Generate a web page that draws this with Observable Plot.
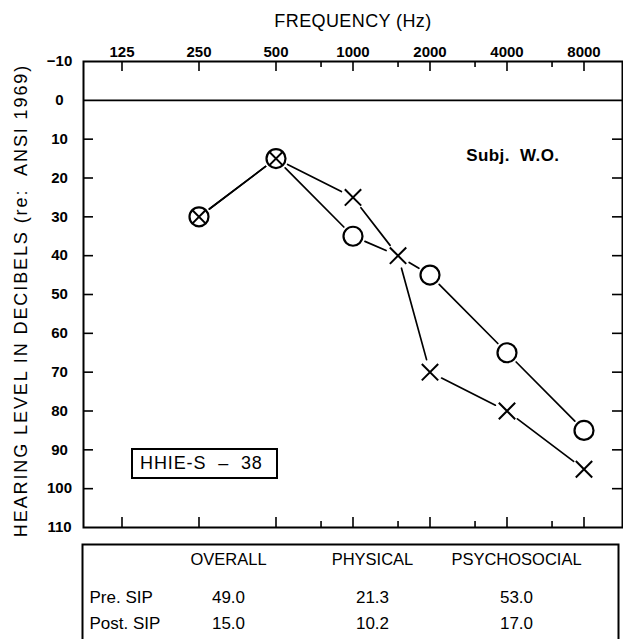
<!DOCTYPE html>
<html><head><meta charset="utf-8">
<script src="https://cdn.jsdelivr.net/npm/d3@7"></script>
<script src="https://cdn.jsdelivr.net/npm/@observablehq/plot@0.6"></script>
<style>
html,body{margin:0;padding:0;background:#fff;overflow:hidden;}
#wrap{position:relative;width:623px;height:639px;overflow:hidden;}
#wrap svg{display:block;}
#score{position:absolute;left:131px;top:448px;width:147px;height:31px;box-sizing:border-box;border:2px solid #000;
  font-family:'Liberation Sans',Arial,sans-serif;font-size:18px;line-height:27px;padding-left:7px;white-space:pre;letter-spacing:0.9px;color:#000;}
</style></head><body><div id="wrap"></div>
<script>
// ---- data ----
const octaveFreqs = [125, 250, 500, 1000, 2000, 4000, 8000];
const halfOctaveFreqs = [750, 1500, 3000, 6000];
const dbTickLabels = [-10, 0, 10, 20, 30, 40, 50, 60, 70, 80, 90, 100, 110];
const innerDbTicks = [10, 20, 30, 40, 50, 60, 70, 80, 90, 100];

const rightEarFreq = [250, 500, 1000, 1500, 2000, 4000, 8000];
const rightEarDb   = [30, 15, 35, 40, 45, 65, 85];
const rightEarShown = [true, true, true, false, true, true, true];
const leftEarFreq  = [250, 500, 1000, 1500, 2000, 4000, 8000];
const leftEarDb    = [30, 15, 25, 40, 70, 80, 95];

const xTitle = "FREQUENCY (Hz)";
const yTitle = "HEARING LEVEL IN DECIBELS (re:  ANSI 1969)";
const subjectLabel = "Subj.  W.O.";
const scoreLabel = "HHIE-S – 38";

const tableColumns = ["OVERALL", "PHYSICAL", "PSYCHOSOCIAL"];
const tableRows = ["Pre. SIP", "Post. SIP"];
const preSIP  = [49.0, 21.3, 53.0];
const postSIP = [15.0, 10.2, 17.0];

// ---- derived tables ----
const right = rightEarFreq.map((f, i) => ({f, db: rightEarDb[i], shown: rightEarShown[i]}));
const left = leftEarFreq.map((f, i) => ({f, db: leftEarDb[i]}));
const segs = s => s.slice(1).map((d, i) => ({x1: s[i].f, y1: s[i].db, x2: d.f, y2: d.db}));
const both = left.filter(d => right.some(r => r.shown && r.f === d.f && r.db === d.db));
const leftOnly = left.filter(d => !both.includes(d));

const W = 623, H = 540, mT = 61, mB = 13, mL = 83, mR = 1;
const innerH = H - mT - mB, innerW = W - mL - mR;
const font = "'Liberation Sans', Arial, sans-serif";

const main = Plot.plot({
  width: W, height: H, marginTop: mT, marginBottom: mB, marginLeft: mL, marginRight: mR,
  style: {fontFamily: font, fontSize: "15px", color: "#000", background: "#fff", overflow: "visible"},
  x: {type: "log", domain: [125 / Math.SQRT2, 8000 * Math.SQRT2], axis: null},
  y: {domain: [-10, 110], reverse: true, axis: null},
  marks: [
    Plot.frame({stroke: "#000", strokeWidth: 2}),
    Plot.ruleY([0], {stroke: "#000", strokeWidth: 1.8}),
    Plot.ruleX(octaveFreqs, {x: d => d, stroke: "#000", strokeWidth: 1.6, insetBottom: innerH - 10}),
    Plot.ruleX(halfOctaveFreqs, {x: d => d, stroke: "#000", strokeWidth: 1.6, insetBottom: innerH - 6}),
    Plot.ruleX(octaveFreqs, {x: d => d, stroke: "#000", strokeWidth: 1.6, insetTop: innerH - 10}),
    Plot.ruleX(halfOctaveFreqs, {x: d => d, stroke: "#000", strokeWidth: 1.6, insetTop: innerH - 6}),
    Plot.ruleY(innerDbTicks, {y: d => d, stroke: "#000", strokeWidth: 1.6, insetRight: innerW - 10}),
    Plot.ruleY(innerDbTicks, {y: d => d, stroke: "#000", strokeWidth: 1.6, insetLeft: innerW - 10}),
    Plot.text(octaveFreqs, {x: d => d, text: d => String(d), frameAnchor: "top", textAnchor: "middle", lineAnchor: "bottom", dy: -5, fontWeight: "bold", fontSize: 15}),
    Plot.text(dbTickLabels, {y: d => d, text: d => d < 0 ? "\u2212" + (-d) : String(d), frameAnchor: "left", textAnchor: "middle", lineAnchor: "middle", dx: -24, fontWeight: "bold", fontSize: 15}),
    Plot.text([xTitle], {text: d => d, frameAnchor: "top", textAnchor: "middle", lineAnchor: "middle", dy: -40, fontSize: 18}),
    Plot.text([yTitle], {text: d => d, frameAnchor: "left", textAnchor: "middle", lineAnchor: "middle", dx: -62, dy: 6, rotate: -90, fontSize: 18}),
    Plot.text([subjectLabel], {text: d => d, frameAnchor: "top-right", textAnchor: "end", lineAnchor: "middle", dx: -63, dy: 94, fontSize: 17, fontWeight: 600}),
    Plot.arrow(segs(right), {x1: "x1", y1: "y1", x2: "x2", y2: "y2", headLength: 0, inset: 13, stroke: "#000", strokeWidth: 1.7}),
    Plot.arrow(segs(left), {x1: "x1", y1: "y1", x2: "x2", y2: "y2", headLength: 0, inset: 13, stroke: "#000", strokeWidth: 1.7}),
    Plot.dot(right.filter(d => d.shown), {x: "f", y: "db", r: 9.5, stroke: "#000", strokeWidth: 2.2, fill: "none"}),
    Plot.dot(leftOnly, {x: "f", y: "db", symbol: "times", r: 7.5, stroke: "#000", strokeWidth: 2}),
    Plot.dot(both, {x: "f", y: "db", symbol: "times", r: 6.2, stroke: "#000", strokeWidth: 2})
  ]
});

// typographic spacing for the titles (the reference uses a wide plotter font)
const spacing = new Map([[yTitle, "1.9px"], [xTitle, "0.4px"], [subjectLabel, "0.4px"]]);
d3.select(main).selectAll("text").each(function() {
  const s = spacing.get(this.textContent);
  if (s) { this.style.letterSpacing = s; this.style.whiteSpace = "pre"; }
});

const tableData = tableColumns.flatMap((c, i) => [
  {row: tableRows[0], col: c, value: preSIP[i]},
  {row: tableRows[1], col: c, value: postSIP[i]}
]);

const table = Plot.plot({
  width: W, height: 115, marginTop: 4, marginLeft: 82, marginRight: 5, marginBottom: 1,
  style: {fontFamily: font, fontSize: "17px", color: "#000", background: "#fff"},
  x: {type: "point", domain: tableColumns, range: [227, 516], padding: 0, axis: null},
  y: {type: "point", domain: tableRows, range: [57, 83], padding: 0, axis: null},
  marks: [
    Plot.frame({stroke: "#000", strokeWidth: 2}),
    Plot.text(tableColumns, {x: d => d, text: d => d, frameAnchor: "top", textAnchor: "middle", lineAnchor: "middle", dy: 15, fontSize: 16.5}),
    Plot.text(tableRows, {y: d => d, text: d => d, frameAnchor: "left", dx: 7, textAnchor: "start", lineAnchor: "middle", fontSize: 17}),
    Plot.text(tableData, {x: "col", y: "row", text: d => d.value.toFixed(1), fontSize: 17})
  ]
});

const wrap = document.getElementById("wrap");
wrap.appendChild(main);
wrap.appendChild(table);
const score = document.createElement("div");
score.id = "score";
score.textContent = scoreLabel.replace(" – ", "  –  ");
wrap.appendChild(score);
</script>
</body></html>
